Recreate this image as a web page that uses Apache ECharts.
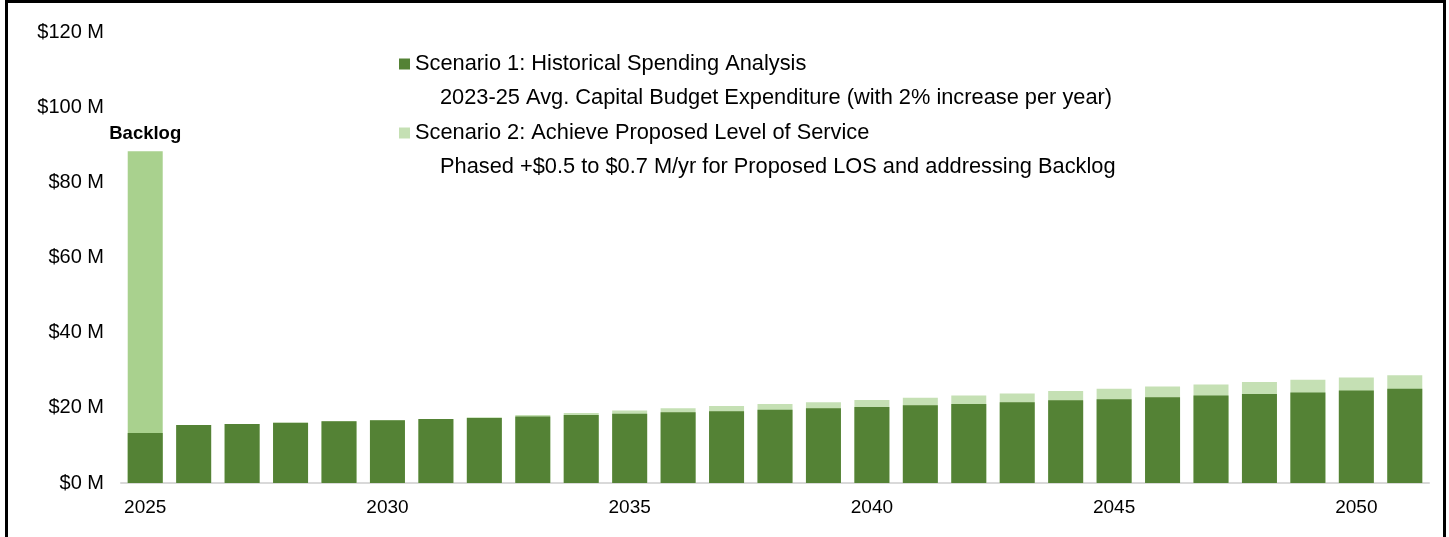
<!DOCTYPE html>
<html>
<head>
<meta charset="utf-8">
<script src="https://cdn.jsdelivr.net/npm/echarts@6/dist/echarts.min.js"></script>
<style>
  html, body { margin: 0; padding: 0; background: #fff; }
  #chart { width: 1449px; height: 537px; }
  #frame { position: absolute; left: 5px; top: 0; width: 1441px; height: 620px; border: 3px solid #000; box-sizing: border-box; pointer-events: none; }
</style>
</head>
<body>
<div id="chart"></div>
<div id="frame"></div>
<script>
const years = ['2025','2026','2027','2028','2029','2030','2031','2032','2033','2034','2035','2036','2037','2038','2039','2040','2041','2042','2043','2044','2045','2046','2047','2048','2049','2050','2051'];
const scenario1 = [13.3, 15.4, 15.7, 16.0, 16.4, 16.7, 17.0, 17.3, 17.7, 18.1, 18.4, 18.8, 19.1, 19.5, 19.9, 20.2, 20.7, 21.0, 21.5, 22.0, 22.3, 22.8, 23.3, 23.7, 24.1, 24.6, 25.1];
const scenario2 = [88.3, 15.4, 15.7, 16.0, 16.4, 16.7, 17.0, 17.5, 18.1, 18.6, 19.3, 19.9, 20.5, 21.0, 21.5, 22.1, 22.7, 23.3, 23.8, 24.5, 25.1, 25.7, 26.2, 26.9, 27.5, 28.1, 28.7];
const yTicks = [0, 20, 40, 60, 80, 100, 120];
const name1 = 'Scenario 1: Historical Spending Analysis';
const name2 = 'Scenario 2: Achieve Proposed Level of Service';
const sub1 = '2023-25 Avg. Capital Budget Expenditure (with 2% increase per year)';
const sub2 = 'Phased +$0.5 to $0.7 M/yr for Proposed LOS and addressing Backlog';
const backlogLabel = 'Backlog';

const FONT = '"Liberation Sans", Arial, sans-serif';
const chart = echarts.init(document.getElementById('chart'), null, { renderer: 'canvas' });

const s2data = scenario2.map((v, i) => i === 0
  ? { value: v, itemStyle: { color: '#A9D18E' },
      label: { show: true, position: 'top', distance: 8, formatter: backlogLabel,
               fontFamily: FONT, fontSize: 18.5, fontWeight: 'bold', color: '#000' } }
  : v);

chart.setOption({
  animation: false,
  textStyle: { fontFamily: FONT },
  grid: { left: 121, right: 20, top: 32, bottom: 54, containLabel: false },
  legend: {
    data: [name1, name2],
    orient: 'vertical',
    left: 399, top: 53, padding: 0,
    itemWidth: 11, itemHeight: 11, itemGap: 47,
    icon: 'rect',
    textStyle: { fontFamily: FONT, fontSize: 21.8, color: '#000', lineHeight: 22 },
    selectedMode: false
  },
  graphic: [
    { type: 'text', left: 440, top: 87, style: { text: sub1, font: '21.8px "Liberation Sans", Arial, sans-serif', fill: '#000' } },
    { type: 'text', left: 440, top: 156, style: { text: sub2, font: '21.8px "Liberation Sans", Arial, sans-serif', fill: '#000' } }
  ],
  xAxis: {
    type: 'category',
    data: years,
    axisTick: { show: false },
    axisLine: { lineStyle: { color: '#D9D9D9', width: 2 } },
    axisLabel: { interval: 4, margin: 15, fontFamily: FONT, fontSize: 19, color: '#000' }
  },
  yAxis: {
    type: 'value',
    min: yTicks[0], max: yTicks[yTicks.length - 1], interval: 20,
    splitLine: { show: false },
    axisLine: { show: false },
    axisTick: { show: false },
    axisLabel: { margin: 17, fontFamily: FONT, fontSize: 20, color: '#000', padding: [3, 0, 0, 0], formatter: v => '$' + v + ' M' }
  },
  series: [
    { name: name2, type: 'bar', data: s2data, barWidth: 35, barGap: '-100%', itemStyle: { color: '#C5E0B4' } },
    { name: name1, type: 'bar', data: scenario1, barWidth: 35, barGap: '-100%', itemStyle: { color: '#548235' } }
  ]
});
</script>
</body>
</html>
